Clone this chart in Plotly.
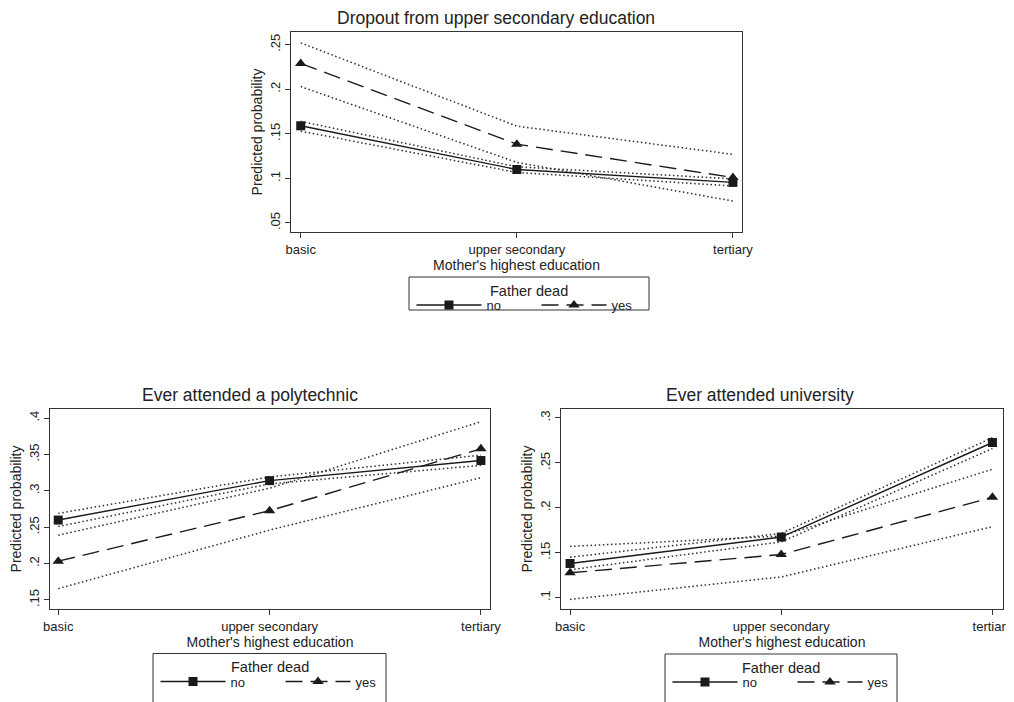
import plotly.graph_objects as go

categories = ["basic", "upper secondary", "tertiary"]
xpos = [0, 1, 2]

# Dropout from upper secondary education
drop_no = [0.159, 0.110, 0.0955]
drop_no_lo = [0.153, 0.1067, 0.0915]
drop_no_hi = [0.164, 0.113, 0.0995]
drop_yes = [0.229, 0.1384, 0.101]
drop_yes_lo = [0.203, 0.118, 0.0746]
drop_yes_hi = [0.252, 0.1586, 0.127]

# Ever attended a polytechnic
poly_no = [0.2598, 0.314, 0.3416]
poly_no_lo = [0.251, 0.3095, 0.335]
poly_no_hi = [0.269, 0.319, 0.349]
poly_yes = [0.2033, 0.2727, 0.3577]
poly_yes_lo = [0.1656, 0.246, 0.318]
poly_yes_hi = [0.239, 0.3036, 0.395]

# Ever attended university
univ_no = [0.138, 0.1674, 0.2727]
univ_no_lo = [0.131, 0.162, 0.266]
univ_no_hi = [0.145, 0.1715, 0.278]
univ_yes = [0.1276, 0.148, 0.2117]
univ_yes_lo = [0.098, 0.123, 0.179]
univ_yes_hi = [0.157, 0.1685, 0.243]

drop_ticks = [0.05, 0.1, 0.15, 0.2, 0.25]
drop_ticktext = [".05", ".1", ".15", ".2", ".25"]
poly_ticks = [0.15, 0.2, 0.25, 0.3, 0.35, 0.4]
poly_ticktext = [".15", ".2", ".25", ".3", ".35", ".4"]
univ_ticks = [0.1, 0.15, 0.2, 0.25, 0.3]
univ_ticktext = [".1", ".15", ".2", ".25", ".3"]

titles = ["Dropout from upper secondary education", "Ever attended a polytechnic", "Ever attended university"]
legend_title = "Father dead"
series_names = ["no", "yes"]

# page body has an 8px margin: figure is placed at (8, 8) in the window
OFF = 8
W, H = 1014 - OFF, 702 - OFF
FONT = "Liberation Sans, Arial, sans-serif"
INK = "#1a1a1a"
AX = "#333333"
DOT = "#2e2e2e"
TXT = "#222222"

fig = go.Figure()

panels = [
    dict(xa="x", ya="y", lg="legend", data=(drop_no, drop_no_lo, drop_no_hi, drop_yes, drop_yes_lo, drop_yes_hi)),
    dict(xa="x2", ya="y2", lg="legend2", data=(poly_no, poly_no_lo, poly_no_hi, poly_yes, poly_yes_lo, poly_yes_hi)),
    dict(xa="x3", ya="y3", lg="legend3", data=(univ_no, univ_no_lo, univ_no_hi, univ_yes, univ_yes_lo, univ_yes_hi)),
]

for p in panels:
    no, nlo, nhi, yes, ylo, yhi = p["data"]
    for ci in (nlo, nhi, ylo, yhi):
        fig.add_trace(go.Scatter(x=xpos, y=ci, mode="lines", xaxis=p["xa"], yaxis=p["ya"],
                                 line=dict(color=DOT, width=1.5, dash="1.5px,2.6px"),
                                 showlegend=False, hoverinfo="skip"))
    fig.add_trace(go.Scatter(x=xpos, y=no, mode="lines+markers", name=series_names[0],
                             xaxis=p["xa"], yaxis=p["ya"], legend=p["lg"],
                             line=dict(color=INK, width=1.4),
                             marker=dict(symbol="square", size=9, color=INK)))
    fig.add_trace(go.Scatter(x=xpos, y=yes, mode="lines+markers", name=series_names[1],
                             xaxis=p["xa"], yaxis=p["ya"], legend=p["lg"],
                             line=dict(color=INK, width=1.4, dash="17px,8px"),
                             marker=dict(symbol="triangle-up", size=10, color=INK)))


def fx(px):
    return (px - OFF) / W


def fy(py):
    return 1 - (py - OFF) / H


def xaxis_cfg(a, b, rng, anchor):
    return dict(domain=[fx(a), fx(b)], range=rng, anchor=anchor, tickmode="array", tickvals=xpos,
                ticktext=categories, showgrid=False, zeroline=False, showline=True,
                linecolor=AX, linewidth=1.3, mirror=True, ticks="outside", ticklen=5,
                tickcolor=AX, tickfont=dict(size=13, color=TXT), ticklabeloverflow="allow",
                title=dict(text="Mother's highest education", font=dict(size=14, color=TXT), standoff=2))


def yaxis_cfg(top, bottom, rng, tv, tt, anchor):
    return dict(domain=[fy(bottom), fy(top)], range=rng, anchor=anchor, tickmode="array", tickvals=tv,
                ticktext=tt, tickangle=-90, showgrid=False, zeroline=False, showline=True,
                linecolor=AX, linewidth=1.3, mirror=True, ticks="outside", ticklen=5,
                tickcolor=AX, tickfont=dict(size=13, color=TXT),
                title=dict(text="Predicted probability", font=dict(size=14, color=TXT), standoff=1))


# legend boxes (window px): left, top, width, height
legend_boxes = [(409, 277, 240, 33), (153, 653.5, 233, 60), (665, 654, 232, 60)]


def legend_cfg(left, top):
    return dict(orientation="h", x=fx(left + 2.5), xanchor="left", y=fy(top + 28), yanchor="middle",
                bgcolor="rgba(0,0,0,0)", borderwidth=0,
                font=dict(size=13, color=TXT, family=FONT),
                itemwidth=65, entrywidth=45, entrywidthmode="pixels",
                itemclick=False, itemdoubleclick=False)


shapes = []
annotations = []
for (left, top, w, h) in legend_boxes:
    shapes.append(dict(type="rect", xref="paper", yref="paper", x0=fx(left), x1=fx(left + w),
                       y0=fy(top + h), y1=fy(top), line=dict(color=AX, width=1), fillcolor="white",
                       layer="below"))
    annotations.append(dict(text=legend_title, x=fx(left + w / 2), y=fy(top + 13.5), xref="paper", yref="paper",
                            xanchor="center", yanchor="middle", showarrow=False,
                            font=dict(size=14.5, color=TXT, family=FONT)))

for text, cx, cy in [(titles[0], 496, 18.5), (titles[1], 249.7, 395), (titles[2], 760, 395)]:
    annotations.append(dict(text=text, x=fx(cx), y=fy(cy), xref="paper", yref="paper",
                            xanchor="center", yanchor="middle", showarrow=False,
                            font=dict(size=17.5, color=TXT, family=FONT)))

fig.update_layout(
    width=W, height=H,
    margin=dict(l=0, r=0, t=0, b=0, autoexpand=False),
    paper_bgcolor="white", plot_bgcolor="white",
    font=dict(family=FONT, color=TXT),
    xaxis=xaxis_cfg(291, 742, [-0.045, 2.042], "y"),
    yaxis=yaxis_cfg(32, 232, [0.0399, 0.2642], drop_ticks, drop_ticktext, "x"),
    xaxis2=xaxis_cfg(50, 490, [-0.039, 2.043], "y2"),
    yaxis2=yaxis_cfg(409, 609, [0.1376, 0.4124], poly_ticks, poly_ticktext, "x2"),
    xaxis3=xaxis_cfg(561, 1003, [-0.043, 2.05], "y3"),
    yaxis3=yaxis_cfg(409, 609, [0.0873, 0.31], univ_ticks, univ_ticktext, "x3"),
    legend=legend_cfg(*legend_boxes[0][:2]),
    legend2=legend_cfg(*legend_boxes[1][:2]),
    legend3=legend_cfg(*legend_boxes[2][:2]),
    shapes=shapes,
    annotations=annotations,
    showlegend=True,
)

fig.write_html("out.html")
